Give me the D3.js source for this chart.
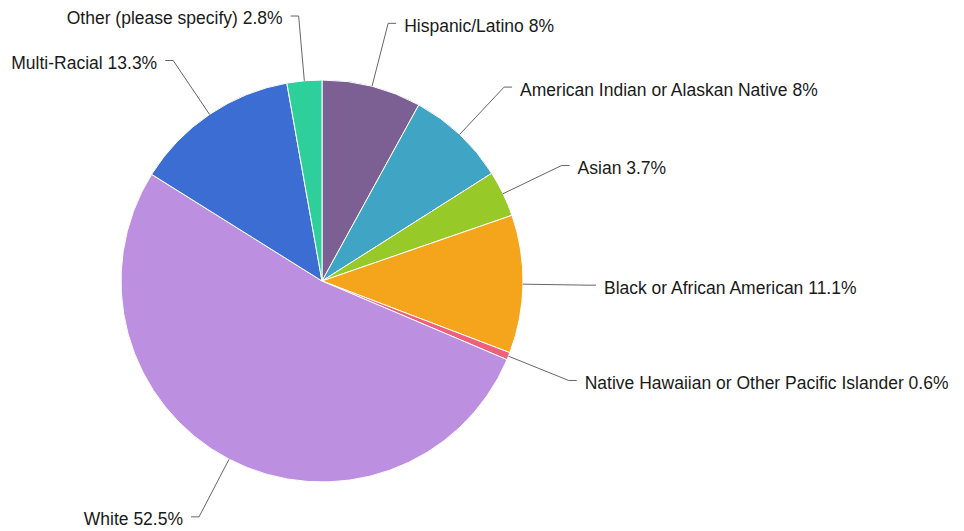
<!DOCTYPE html>
<html><head><meta charset="utf-8">
<script src="https://cdn.jsdelivr.net/npm/d3@7"></script>
<style>html,body{margin:0;padding:0;background:#fff;}svg{display:block;}</style>
</head><body>
<svg id="chart" width="964" height="531"></svg>
<script>
const categories = ["Hispanic/Latino","American Indian or Alaskan Native","Asian","Black or African American","Native Hawaiian or Other Pacific Islander","White","Multi-Racial","Other (please specify)"];
const values = [8, 8, 3.7, 11.1, 0.6, 52.5, 13.3, 2.8];
const colors = ["#7c6093","#40a4c4","#97c929","#f5a51b","#ef607d","#bd8fe1","#3b6dd3","#2ecf9b"];

const svg = d3.select("#chart");
const cx = 322, cy = 281, r = 201, rElbow = 266;
const g = svg.append("g").attr("transform", `translate(${cx},${cy})`);
const data = categories.map((c,i)=>({name:c, value:values[i], color:colors[i]}));
const pie = d3.pie().value(d=>d.value).sort(null);
const arcs = pie(data);
const arc = d3.arc().innerRadius(0).outerRadius(r);

g.selectAll("path.slice").data(arcs).join("path")
  .attr("class","slice")
  .attr("d", arc)
  .attr("fill", d=>d.data.color)
  .attr("stroke","#fff").attr("stroke-width",1);

arcs.forEach(d=>{
  const a = (d.startAngle + d.endAngle)/2;
  const sx = r*Math.sin(a), sy = -r*Math.cos(a);
  const ex = rElbow*Math.sin(a), ey = -rElbow*Math.cos(a);
  const right = Math.sin(a) >= 0;
  const hx = ex + (right ? 8 : -8);
  g.append("polyline")
    .attr("points", `${sx},${sy} ${ex},${ey} ${hx},${ey}`)
    .attr("fill","none").attr("stroke","#666").attr("stroke-width",1);
  g.append("text")
    .attr("x", hx + (right ? 8 : -8))
    .attr("y", ey)
    .attr("dy","0.48em")
    .attr("text-anchor", right ? "start" : "end")
    .attr("font-family","'Liberation Sans', Arial, Helvetica, sans-serif")
    .attr("font-size", 17.5)
    .attr("fill","#1a1a1a")
    .text(`${d.data.name} ${d.data.value}%`);
});
</script>
</body></html>
